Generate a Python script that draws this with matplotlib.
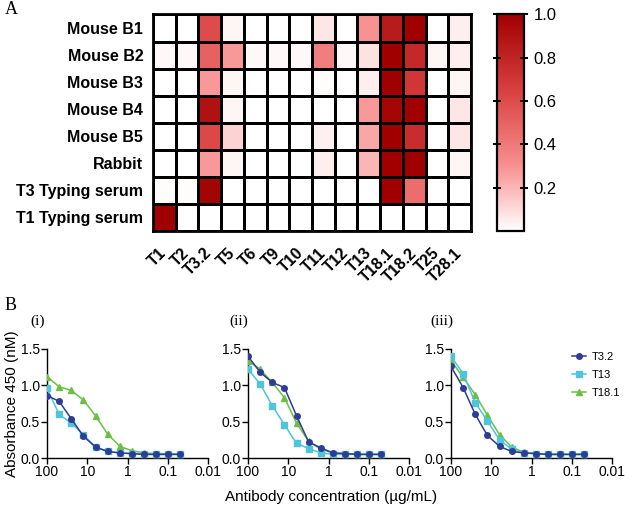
"""
Heatmap of serum cross-reactivity against T types (A) and
antibody titration curves for three sera (B).
"""

import numpy as np
import matplotlib
matplotlib.use("Agg")
import matplotlib.pyplot as plt
from matplotlib.colors import LinearSegmentedColormap

plt.rcParams["font.family"] = ["Liberation Sans", "DejaVu Sans"]

# ---- panel A data -------------------------------------------------------
t_types = ["T1", "T2", "T3.2", "T5", "T6", "T9", "T10", "T11", "T12",
           "T13", "T18.1", "T18.2", "T25", "T28.1"]
sera = ["Mouse B1", "Mouse B2", "Mouse B3", "Mouse B4", "Mouse B5",
        "Rabbit", "T3 Typing serum", "T1 Typing serum"]

mouse_b1 = [0.0, 0.0, 0.60, 0.03, 0.0, 0.0, 0.0, 0.07, 0.0, 0.30, 0.85, 1.00, 0.0, 0.05]
mouse_b2 = [0.02, 0.02, 0.50, 0.28, 0.02, 0.02, 0.02, 0.38, 0.02, 0.08, 1.00, 0.78, 0.03, 0.05]
mouse_b3 = [0.0, 0.0, 0.28, 0.03, 0.0, 0.0, 0.0, 0.01, 0.0, 0.05, 1.00, 0.70, 0.0, 0.03]
mouse_b4 = [0.0, 0.0, 0.90, 0.03, 0.0, 0.0, 0.0, 0.0, 0.0, 0.28, 0.97, 1.00, 0.0, 0.07]
mouse_b5 = [0.0, 0.0, 0.62, 0.12, 0.0, 0.0, 0.0, 0.04, 0.0, 0.24, 1.00, 0.75, 0.0, 0.07]
rabbit = [0.0, 0.0, 0.28, 0.03, 0.0, 0.0, 0.0, 0.05, 0.0, 0.20, 1.00, 1.00, 0.0, 0.03]
t3_serum = [0.01, 0.01, 0.98, 0.0, 0.0, 0.0, 0.0, 0.0, 0.0, 0.0, 1.00, 0.45, 0.0, 0.0]
t1_serum = [1.00, 0.0, 0.0, 0.0, 0.0, 0.0, 0.0, 0.0, 0.0, 0.0, 0.0, 0.0, 0.0, 0.0]

# ---- panel B data -------------------------------------------------------
conc = [100, 50, 25, 12.5, 6.25, 3.125, 1.5625, 0.78, 0.39, 0.195, 0.098, 0.049]

i_t32 = [0.86, 0.78, 0.54, 0.30, 0.15, 0.09, 0.07, 0.06, 0.05, 0.05, 0.05, 0.05]
i_t13 = [0.96, 0.60, 0.48, 0.32, 0.15, 0.09, 0.07, 0.06, 0.05, 0.05, 0.05, 0.05]
i_t181 = [1.12, 0.98, 0.93, 0.80, 0.58, 0.33, 0.16, 0.10, 0.07, 0.06, 0.06, 0.05]

ii_t32 = [1.40, 1.18, 1.04, 0.97, 0.58, 0.22, 0.14, 0.07, 0.06, 0.05, 0.05, 0.05]
ii_t13 = [1.22, 1.02, 0.72, 0.46, 0.20, 0.13, 0.07, 0.05, 0.05, 0.05, 0.05, 0.05]
ii_t181 = [1.34, 1.22, 1.04, 0.83, 0.48, 0.23, 0.12, 0.07, 0.06, 0.05, 0.05, 0.05]

iii_t32 = [1.26, 0.97, 0.60, 0.31, 0.16, 0.09, 0.07, 0.06, 0.05, 0.05, 0.05, 0.05]
iii_t13 = [1.40, 1.16, 0.76, 0.51, 0.25, 0.12, 0.07, 0.06, 0.05, 0.05, 0.05, 0.05]
iii_t181 = [1.34, 1.11, 0.87, 0.59, 0.32, 0.15, 0.08, 0.06, 0.05, 0.05, 0.05, 0.05]

x_ticks = [100, 10, 1, 0.1, 0.01]
x_ticklabels = ["100", "10", "1", "0.1", "0.01"]

C_T32 = "#2f3c96"
C_T13 = "#4fc4da"
C_T181 = "#6cbf45"

fig = plt.figure(figsize=(6.25, 5.08), dpi=100)

# ---- A: heatmap ---------------------------------------------------------
cmap = LinearSegmentedColormap.from_list(
    "wr", [(0.0, "#ffffff"), (0.3, "#f89090"), (0.65, "#d94040"), (1.0, "#a00000")])
grid = np.array([mouse_b1, mouse_b2, mouse_b3, mouse_b4, mouse_b5,
                 rabbit, t3_serum, t1_serum])

axh = fig.add_axes([0.2448, 0.5453, 0.5088, 0.4262])
mesh = axh.pcolormesh(grid, cmap=cmap, vmin=0, vmax=1,
                      edgecolors="black", linewidth=0.8)
axh.set_xlim(0, len(t_types))
axh.set_ylim(len(sera), 0)
axh.set_xticks(np.arange(len(t_types)) + 0.5)
axh.set_xticklabels(t_types, rotation=45, ha="right", va="center",
                    rotation_mode="anchor", fontsize=11.5, fontweight="bold")
axh.set_yticks(np.arange(len(sera)) + 0.5)
axh.set_yticklabels(sera, fontsize=11.5, fontweight="bold")
axh.tick_params(length=0, pad=7)
axh.tick_params(axis="x", pad=14)
for s in axh.spines.values():
    s.set_linewidth(2)

cax = fig.add_axes([0.7952, 0.5453, 0.0432, 0.4262])
cb = fig.colorbar(mesh, cax=cax, ticks=[0.2, 0.4, 0.6, 0.8, 1.0])
cb.outline.set_linewidth(1.6)
cax.yaxis.set_ticks_position("both")
cax.tick_params(direction="inout", length=6, width=1.4, labelsize=12, pad=4)
cax.tick_params(labelleft=False, labelright=True)
cax.set_yticklabels(["0.2", "0.4", "0.6", "0.8", "1.0"])

# ---- B: titration curves -----------------------------------------------
panels = [
    (0.0752, "(i)", i_t32, i_t13, i_t181),
    (0.3968, "(ii)", ii_t32, ii_t13, ii_t181),
    (0.7216, "(iii)", iii_t32, iii_t13, iii_t181),
]
axes = []
for left, tag, y32, y13, y181 in panels:
    ax = fig.add_axes([left, 0.0984, 0.258, 0.2146])
    ax.plot(conc, y181, color=C_T181, marker="^", ms=4, lw=1.1, label="T18.1", zorder=3)
    ax.plot(conc, y13, color=C_T13, marker="s", ms=4, lw=1.1, label="T13", zorder=4)
    ax.plot(conc, y32, color=C_T32, marker="o", ms=4, lw=1.1, label="T3.2", zorder=5)
    ax.set_xscale("log")
    ax.set_xlim(100, 0.01)
    ax.set_ylim(0, 1.5)
    ax.set_xticks(x_ticks)
    ax.set_xticklabels(x_ticklabels)
    ax.set_yticks([0.0, 0.5, 1.0, 1.5])
    ax.set_yticklabels(["0.0", "0.5", "1.0", "1.5"])
    ax.spines["top"].set_visible(False)
    ax.spines["right"].set_visible(False)
    for s in ("left", "bottom"):
        ax.spines[s].set_linewidth(1.0)
    ax.tick_params(labelsize=10, length=4, width=1.0, pad=1)
    ax.tick_params(which="minor", length=2, width=0.6)
    ax.text(left - 0.015, 0.368, tag, transform=fig.transFigure,
            fontsize=11, family="Liberation Serif", va="center", ha="center")
    axes.append(ax)

axes[0].set_ylabel("Absorbance 450 (nM)", fontsize=11, labelpad=1)

handles, labels = axes[2].get_legend_handles_labels()
order = [2, 1, 0]
axes[2].legend([handles[k] for k in order], [labels[k] for k in order],
               loc="center left", bbox_to_anchor=(0.902, 0.262),
               bbox_transform=fig.transFigure, frameon=False, fontsize=8,
               handlelength=1.3, handletextpad=0.5, labelspacing=0.7,
               borderpad=0.2)

fig.text(0.53, 0.022, "Antibody concentration (\u00b5g/mL)", fontsize=11,
         ha="center", va="center")

fig.text(0.008, 0.982, "A", fontsize=13, family="Liberation Serif", va="center")
fig.text(0.008, 0.398, "B", fontsize=13, family="Liberation Serif", va="center")

fig.savefig("out.png", dpi=100)
